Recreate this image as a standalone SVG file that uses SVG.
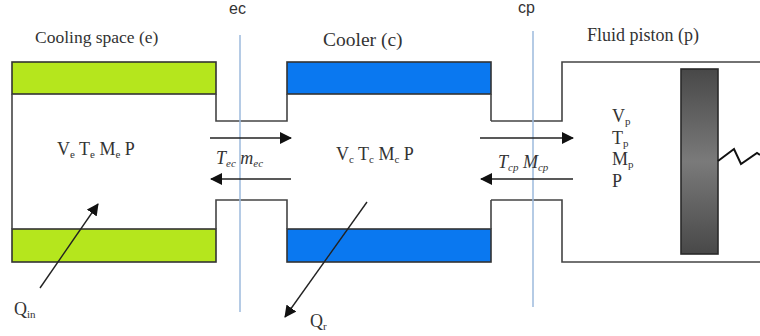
<svg xmlns="http://www.w3.org/2000/svg" width="760" height="336" viewBox="0 0 760 336">
<style>
text{font-family:"Liberation Serif","Times New Roman",serif;font-size:18px;fill:#333}
.s{font-size:11px}
.sans{font-family:"Liberation Sans",Arial,sans-serif;font-size:16px}
.i{font-style:italic}
.w{fill:none;stroke:#444;stroke-width:1.6}
.g{fill:#b5e61d;stroke:#333;stroke-width:1.6}
.c{fill:#0a78f0;stroke:#333;stroke-width:1.6}
.l{stroke:#9dbbdd;stroke-width:1.5;fill:none}
.a{stroke:#222;stroke-width:1.4;fill:none;marker-end:url(#h)}
</style>
<defs>
<marker id="h" markerUnits="userSpaceOnUse" markerWidth="13" markerHeight="13" refX="11" refY="6.5" orient="auto"><path d="M0,0.5L12,6.5L0,12.5Z" fill="#111"/></marker>
<linearGradient id="pg" x1="0" y1="0" x2="0" y2="1"><stop offset="0" stop-color="#484848"/><stop offset=".5" stop-color="#7a7a7a"/><stop offset="1" stop-color="#484848"/></linearGradient>
</defs>
<rect width="760" height="336" fill="#fff"/>
<g id="cooling-space">
<rect class="g" x="12" y="62" width="204" height="32"/>
<rect class="g" x="12" y="229" width="204" height="33"/>
<path class="w" d="M12,94V229"/>
<text x="35" y="43" style="font-size:17.5px">Cooling space (e)</text>
<text x="57" y="155">V<tspan class="s" dy="3">e</tspan><tspan dy="-3"> T</tspan><tspan class="s" dy="3">e</tspan><tspan dy="-3"> M</tspan><tspan class="s" dy="3">e</tspan><tspan dy="-3"> P</tspan></text>
</g>
<g id="cooler">
<rect class="c" x="287" y="62" width="204" height="32"/>
<rect class="c" x="287" y="229" width="204" height="33"/>
<text x="323" y="46" style="font-size:19.5px">Cooler (c)</text>
<text x="336" y="160">V<tspan class="s" dy="3">c</tspan><tspan dy="-3"> T</tspan><tspan class="s" dy="3">c</tspan><tspan dy="-3"> M</tspan><tspan class="s" dy="3">c</tspan><tspan dy="-3"> P</tspan></text>
</g>
<g id="fluid-piston">
<path class="w" d="M760,62H562V121H491M491,200H562V262H760"/>
<rect x="681" y="69" width="37" height="185" fill="url(#pg)" stroke="#2a2a2a" stroke-width="1.6"/>
<path d="M718,161L734,149L741,164L757,153L760,155" fill="none" stroke="#111" stroke-width="2"/>
<text x="587" y="41">Fluid piston (p)</text>
<text x="612" y="122">V<tspan class="s" dy="3">p</tspan></text>
<text x="612" y="144">T<tspan class="s" dy="3">p</tspan></text>
<text x="612" y="165">M<tspan class="s" dy="3">p</tspan></text>
<text x="612" y="187">P</text>
</g>
<g id="connectors">
<path class="w" d="M216,94V121H287V94M216,229V200H287V229M491,94V121M491,229V200"/>
<path class="l" d="M240,35V312M533,31V307"/>
<path class="a" d="M210,138H291"/>
<path class="a" d="M291,179H211"/>
<path class="a" d="M480,138H573"/>
<path class="a" d="M573,179H481"/>
<path class="a" d="M40,288L98,204"/>
<path class="a" d="M367,202L285,317"/>
</g>
<g id="labels">
<text class="sans" x="229" y="14">ec</text>
<text class="sans" x="518" y="13">cp</text>
<text x="216" y="164" class="i">T<tspan class="s" dy="3">ec</tspan><tspan dy="-3"> m</tspan><tspan class="s" dy="3">ec</tspan></text>
<text x="498" y="168" class="i">T<tspan class="s" dy="3">cp</tspan><tspan dy="-3"> M</tspan><tspan class="s" dy="3">cp</tspan></text>
<text x="14" y="315">Q<tspan class="s" dy="3">in</tspan></text>
<text x="310" y="327">Q<tspan class="s" dy="3">r</tspan></text>
</g>
</svg>
